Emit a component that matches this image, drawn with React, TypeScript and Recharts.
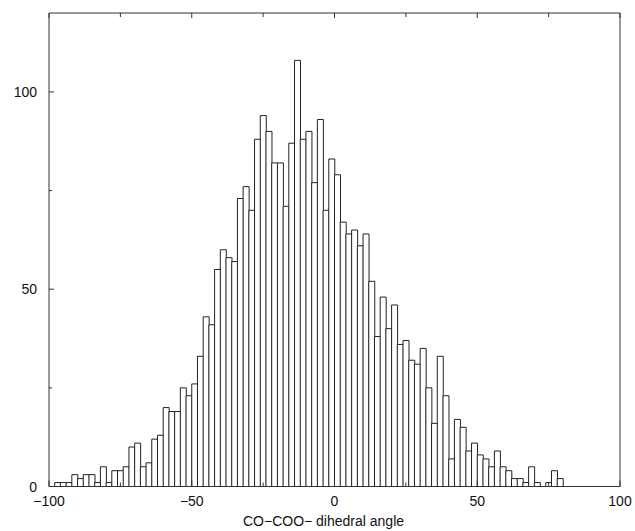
import { Bar, BarChart, XAxis, YAxis } from "recharts";

// histogram bins: 2 degree wide, from -100 to 100
const BIN_START = -100;
const BIN_WIDTH = 2;

// counts per bin, read left to right off the figure
const counts = [
  0, 1, 1, 1, 3, 2, 3, 3, 1, 5,
  1, 4, 4, 5, 10, 11, 5, 6, 12, 13,
  20, 19, 19, 25, 23, 26, 33, 43, 41, 55,
  60, 58, 57, 73, 76, 70, 88, 94, 90, 82,
  82, 71, 87, 108, 88, 90, 77, 93, 70, 83,
  79, 67, 64, 65, 61, 64, 52, 38, 48, 40,
  46, 36, 37, 32, 31, 35, 25, 16, 33, 23,
  7, 17, 15, 9, 11, 8, 7, 5, 9, 5,
  4, 2, 2, 1, 5, 1, 0, 1, 4, 2,
  0, 0, 0, 0, 0, 0, 0, 0, 0, 0,
];

const xTicks = [-100, -75, -50, -25, 0, 25, 50, 75, 100];
const yTicks = [0, 25, 50, 75, 100];
const xTitle = "CO\u2212COO\u2212 dihedral angle";

const data = counts.map((count, i) => ({
  center: BIN_START + i * BIN_WIDTH + BIN_WIDTH / 2,
  count,
}));

const FONT = '"Liberation Sans", Arial, Helvetica, sans-serif';
const INK = "#333";

const fmt = (v: number) => (v < 0 ? `\u2212${Math.abs(v)}` : `${v}`);

function BottomTick({ x, y, payload }: any) {
  const major = payload.value % 50 === 0;
  return (
    <g>
      <line x1={x} x2={x} y1={y} y2={y - (major ? 6 : 4)} stroke={INK} />
      {major && (
        <text x={x} y={y + 19} textAnchor="middle" fontSize={14} fontFamily={FONT} fill="#111">
          {fmt(payload.value)}
        </text>
      )}
    </g>
  );
}

function TopTick({ x, y, payload }: any) {
  const major = payload.value % 50 === 0;
  return <line x1={x} x2={x} y1={y} y2={y + (major ? 5 : 4)} stroke={INK} />;
}

function LeftTick({ x, y, payload }: any) {
  const major = payload.value % 50 === 0;
  return (
    <g>
      <line x1={x} x2={x + (major ? 5 : 3)} y1={y} y2={y} stroke={INK} />
      {major && (
        <text x={x - 12} y={y + 5} textAnchor="end" fontSize={14} fontFamily={FONT} fill="#111">
          {payload.value}
        </text>
      )}
    </g>
  );
}

function RightTick({ x, y, payload }: any) {
  const major = payload.value % 50 === 0;
  return <line x1={x} x2={x - (major ? 5 : 3)} y1={y} y2={y} stroke={INK} />;
}

function XTitle({ viewBox }: any) {
  const { x, y, width, height } = viewBox;
  return (
    <text
      x={x + width / 2 - 11}
      y={y + height - 5}
      textAnchor="middle"
      fontSize={14}
      fontFamily={FONT}
      fill="#111"
    >
      {xTitle}
    </text>
  );
}

export default function App() {
  return (
    <div style={{ position: "absolute", left: 0, top: 0, background: "#fff" }}>
      <BarChart
        width={635}
        height={531}
        data={data}
        margin={{ top: 0, right: 0, bottom: 0, left: 0 }}
        barCategoryGap={0}
        barGap={0}
      >
        <XAxis
          xAxisId="num"
          type="number"
          dataKey="center"
          domain={[-100, 100]}
          ticks={xTicks}
          interval={0}
          height={44.5}
          tickSize={0}
          tickMargin={0}
          tick={<BottomTick />}
          axisLine={{ stroke: INK }}
          label={<XTitle />}
        />
        <XAxis
          xAxisId="top"
          orientation="top"
          type="number"
          dataKey="center"
          domain={[-100, 100]}
          ticks={xTicks}
          interval={0}
          height={13}
          tickSize={0}
          tickMargin={0}
          tick={<TopTick />}
          axisLine={{ stroke: INK }}
        />
        <YAxis
          yAxisId="left"
          type="number"
          domain={[0, 120]}
          ticks={yTicks}
          interval={0}
          width={49}
          tickSize={0}
          tickMargin={0}
          tick={<LeftTick />}
          axisLine={{ stroke: INK }}
        />
        <YAxis
          yAxisId="right"
          orientation="right"
          type="number"
          domain={[0, 120]}
          ticks={yTicks}
          interval={0}
          width={15}
          tickSize={0}
          tickMargin={0}
          tick={<RightTick />}
          axisLine={{ stroke: INK }}
        />
        <Bar
          xAxisId="num"
          yAxisId="left"
          dataKey="count"
          fill="#fff"
          stroke="#222"
          strokeWidth={1}
          isAnimationActive={false}
        />
      </BarChart>
    </div>
  );
}
